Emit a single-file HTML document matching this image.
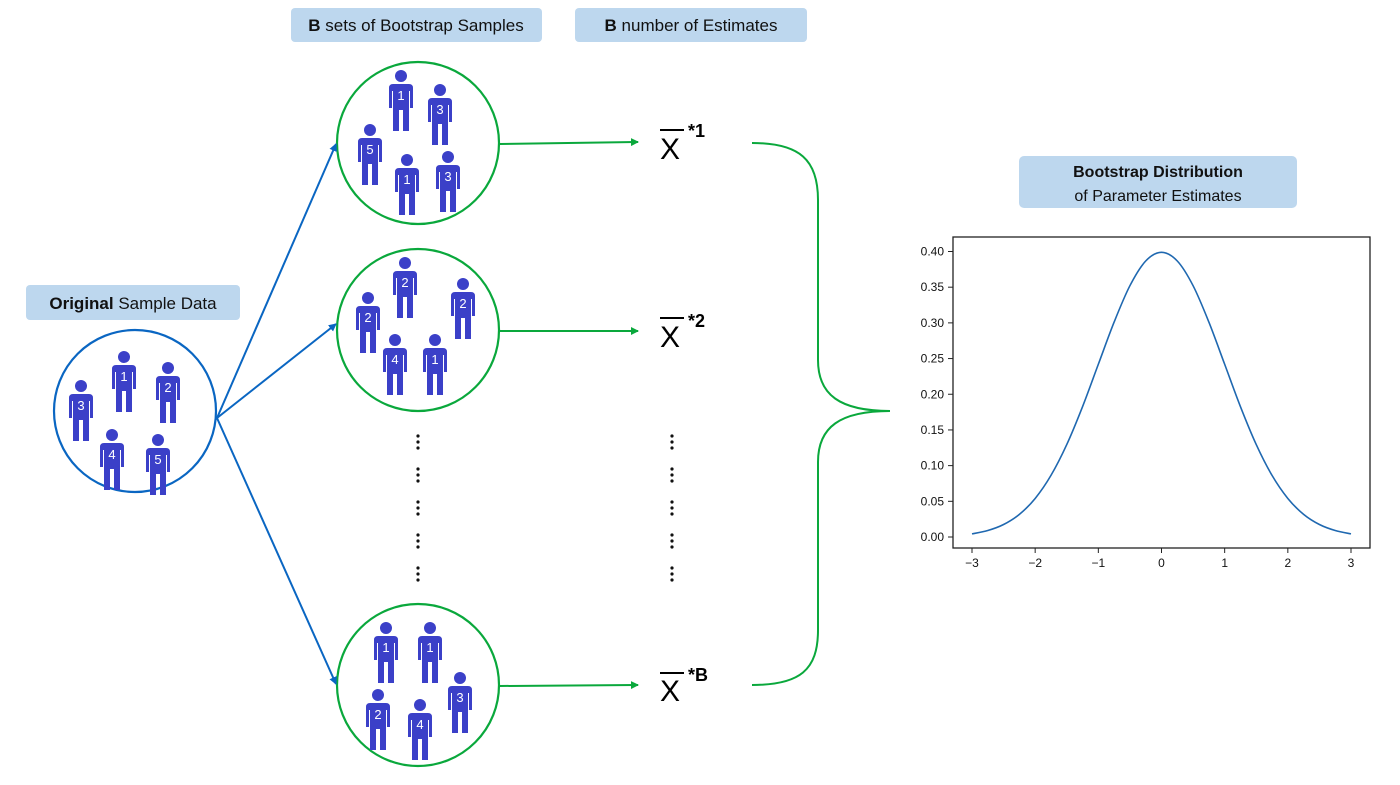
<!DOCTYPE html>
<html><head><meta charset="utf-8"><style>
html,body{margin:0;padding:0;background:#fff;width:1400px;height:785px;overflow:hidden}
svg{display:block;font-family:"Liberation Sans",sans-serif}
</style></head><body>
<svg id="root" width="1400" height="785" viewBox="0 0 1400 785">
<defs>
<marker id="ab" markerWidth="8" markerHeight="8" refX="7" refY="4" orient="auto" markerUnits="userSpaceOnUse"><path d="M0,0 L8,4 L0,8 z" fill="#0a66c2"/></marker>
<marker id="ag" markerWidth="8" markerHeight="8" refX="7" refY="4" orient="auto" markerUnits="userSpaceOnUse"><path d="M0,0 L8,4 L0,8 z" fill="#0aa83c"/></marker>
</defs>
<g>
<rect x="26" y="285" width="214" height="35" rx="4" fill="#bdd7ee"/>
<text x="133" y="309" text-anchor="middle" font-size="17" fill="#111"><tspan font-weight="bold">Original</tspan> Sample Data</text>
<rect x="291" y="8" width="251" height="34" rx="4" fill="#bdd7ee"/>
<text x="416" y="31" text-anchor="middle" font-size="17" fill="#111"><tspan font-weight="bold">B</tspan> sets of Bootstrap Samples</text>
<rect x="575" y="8" width="232" height="34" rx="4" fill="#bdd7ee"/>
<text x="691" y="31" text-anchor="middle" font-size="17" fill="#111"><tspan font-weight="bold">B</tspan> number of Estimates</text>
<rect x="1019" y="156" width="278" height="52" rx="5" fill="#bdd7ee"/>
<text x="1158" y="177" text-anchor="middle" font-size="16" font-weight="bold" fill="#111">Bootstrap Distribution</text>
<text x="1158" y="201" text-anchor="middle" font-size="16" fill="#111">of Parameter Estimates</text>
</g>
<circle cx="135" cy="411" r="81" fill="none" stroke="#0a66c2" stroke-width="2.2"/>
<circle cx="418" cy="143" r="81" fill="none" stroke="#0aa83c" stroke-width="2.2"/>
<circle cx="418" cy="330" r="81" fill="none" stroke="#0aa83c" stroke-width="2.2"/>
<circle cx="418" cy="685" r="81" fill="none" stroke="#0aa83c" stroke-width="2.2"/>
<g stroke="#0a66c2" stroke-width="2">
<line x1="217" y1="418" x2="336" y2="144" marker-end="url(#ab)"/>
<line x1="217" y1="418" x2="336" y2="324" marker-end="url(#ab)"/>
<line x1="217" y1="418" x2="336" y2="684" marker-end="url(#ab)"/>
</g>
<g stroke="#0aa83c" stroke-width="2">
<line x1="500" y1="144" x2="638" y2="142" marker-end="url(#ag)"/>
<line x1="500" y1="331" x2="638" y2="331" marker-end="url(#ag)"/>
<line x1="500" y1="686" x2="638" y2="685" marker-end="url(#ag)"/>
</g>
<g font-size="30" fill="#000">
<g><line x1="660" y1="130" x2="684" y2="130" stroke="#000" stroke-width="2"/><text x="660" y="159">X</text><text x="688" y="137" font-size="18" font-weight="bold">*1</text></g>
<g><line x1="660" y1="318" x2="684" y2="318" stroke="#000" stroke-width="2"/><text x="660" y="347">X</text><text x="688" y="327" font-size="18" font-weight="bold">*2</text></g>
<g><line x1="660" y1="673" x2="684" y2="673" stroke="#000" stroke-width="2"/><text x="660" y="701">X</text><text x="688" y="681" font-size="18" font-weight="bold">*B</text></g>
</g>
<g id="dots"></g>
<path d="M752,143 C800,143 818,160 818,200 L818,360 C818,395 840,411 890,411 C840,411 818,427 818,462 L818,630 C818,670 800,685 752,685" fill="none" stroke="#0aa83c" stroke-width="2"/>
<g id="people"></g>
<g id="chart"></g>
</svg>
<script>
const xValues=[-3,-2.75,-2.5,-2.25,-2,-1.75,-1.5,-1.25,-1,-0.75,-0.5,-0.25,0,0.25,0.5,0.75,1,1.25,1.5,1.75,2,2.25,2.5,2.75,3];
const densityValues=[0.0044,0.0091,0.0175,0.0317,0.054,0.0863,0.1295,0.1826,0.242,0.3011,0.3521,0.3867,0.3989,0.3867,0.3521,0.3011,0.242,0.1826,0.1295,0.0863,0.054,0.0317,0.0175,0.0091,0.0044];
const xTicks=[-3,-2,-1,0,1,2,3];
const xTickLabels=["\u22123","\u22122","\u22121","0","1","2","3"];
const yTicks=[0,0.05,0.1,0.15,0.2,0.25,0.3,0.35,0.4];
const yTickLabels=["0.00","0.05","0.10","0.15","0.20","0.25","0.30","0.35","0.40"];
const NS="http://www.w3.org/2000/svg";
function mk(tag,attrs,parent){const e=document.createElementNS(NS,tag);for(const k in attrs)e.setAttribute(k,attrs[k]);parent.appendChild(e);return e;}
const X=v=>972+(v+3)*(1351-972)/6;
const Y=v=>537-v*(537-251.5)/0.4;
const chart=document.getElementById('chart');
const frame=mk('rect',{x:953,y:237,width:417,height:311,fill:'none',stroke:'#222','stroke-width':1.3},chart);


xTicks.forEach((t,i)=>{
  const l=mk('line',{x1:X(t),x2:X(t),y1:548,y2:553,stroke:'#222'},chart);
  
  
  const tx=mk('text',{x:X(t),y:567,'text-anchor':'middle','font-size':12,fill:'#111'},chart);
  tx.textContent=xTickLabels[i];
  
  
});
yTicks.forEach((t,i)=>{
  const l=mk('line',{x1:948,x2:953,y1:Y(t),y2:Y(t),stroke:'#222'},chart);
  
  
  const tx=mk('text',{x:944,y:Y(t)+4,'text-anchor':'end','font-size':12,fill:'#111'},chart);
  tx.textContent=yTickLabels[i];
  
  
});
const pts=xValues.map((x,i)=>[X(x),Y(densityValues[i])]);
let d='M'+pts[0][0]+','+pts[0][1];
for(let i=0;i<pts.length-1;i++){
  const p0=pts[Math.max(0,i-1)],p1=pts[i],p2=pts[i+1],p3=pts[Math.min(pts.length-1,i+2)];
  d+=' C'+(p1[0]+(p2[0]-p0[0])/6)+','+(p1[1]+(p2[1]-p0[1])/6)+' '+(p2[0]-(p3[0]-p1[0])/6)+','+(p2[1]-(p3[1]-p1[1])/6)+' '+p2[0]+','+p2[1];
}
const curve=mk('path',{d:d,fill:'none',stroke:'#1f68b0','stroke-width':1.6},chart);


// dots
const dots=document.getElementById('dots');
[418,672].forEach(cx=>{
  for(let g=0;g<5;g++){for(let k=0;k<3;k++){
    const c=mk('circle',{cx:cx,cy:436+g*33+k*6,r:1.6,fill:'#111'},dots);
    
    
  }}
});
// people
const people=[[124,357,1],[168,368,2],[81,386,3],[112,435,4],[158,440,5],
[401,76,1],[440,90,3],[370,130,5],[407,160,1],[448,157,3],
[405,263,2],[463,284,2],[368,298,2],[395,340,4],[435,340,1],
[386,628,1],[430,628,1],[460,678,3],[378,695,2],[420,705,4]];
const pg=document.getElementById('people');
people.forEach(([hx,hy,n])=>{
  const g=mk('g',{fill:'#3b40c8'},pg);
  
  
  mk('circle',{cx:hx,cy:hy,r:6},g);
  mk('path',{d:`M${hx-12},${hy+12} Q${hx-12},${hy+8} ${hx-8},${hy+8} L${hx+8},${hy+8} Q${hx+12},${hy+8} ${hx+12},${hy+12} L${hx+12},${hy+32} L${hx+9},${hy+32} L${hx+9},${hy+15} L${hx+8},${hy+15} L${hx+8},${hy+55} L${hx+2},${hy+55} L${hx+2},${hy+34} L${hx-2},${hy+34} L${hx-2},${hy+55} L${hx-8},${hy+55} L${hx-8},${hy+15} L${hx-9},${hy+15} L${hx-9},${hy+32} L${hx-12},${hy+32} Z`},g);
  const t=mk('text',{x:hx,y:hy+24,'text-anchor':'middle','font-size':13,fill:'#fff'},g);
  t.textContent=n;
});
</script>
</body></html>
